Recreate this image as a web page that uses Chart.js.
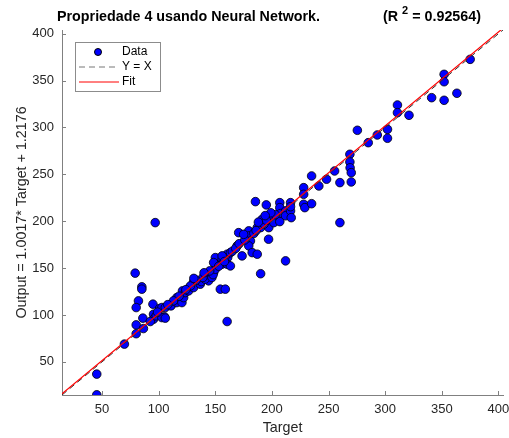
<!DOCTYPE html>
<html>
<head>
<meta charset="utf-8">
<script src="https://cdn.jsdelivr.net/npm/chart.js@4/dist/chart.umd.min.js"></script>
<style>
  html, body { margin: 0; padding: 0; background: #fff; }
  #wrap { width: 509px; height: 438px; }
</style>
</head>
<body>
<div id="wrap"><canvas id="regPlot" width="509" height="438"></canvas></div>
<script>
// valores
const target = [45.3, 45.3, 69.7, 79.2, 85.1, 85.1, 82.1, 80.1, 80.1, 80.1, 86.5, 86, 94.9, 96.9, 95.4, 95.4, 92.5, 97.8,
  100.7, 102.8, 105.8, 105.1, 102.8, 105.8, 111, 110.8, 116, 116, 120.5, 121, 122, 123.5, 126.4, 126.4, 130.8, 130.8,
  136.7, 137.6, 142.6, 144, 141, 147, 148.5, 148, 150, 150, 150, 148.5, 154.4, 158.8, 156, 156, 160.9, 160.4, 160.4,
  160.4, 163.3, 163.3, 169.2, 170.6, 173.6, 179.5, 179.5, 181, 179.5, 182.5, 187, 187, 190, 190, 185.4, 191.3, 195,
  197.2, 197, 200.2, 201.6, 212, 206.9, 206.9, 207.5, 206.9, 212, 212, 216.4, 216.4, 217, 216.4, 228, 229, 235, 228,
  228, 235, 241.4, 248.2, 255.3, 260, 260, 268.8, 268.8, 269, 270, 270, 275.4, 285, 293, 302, 302, 310.8, 310.8, 321,
  341, 352, 352, 352, 363.3, 375,
  165, 168, 171, 176, 184, 186, 193, 195, 203, 199, 194, 188, 153, 145, 139, 133, 128, 118, 113, 108, 99, 124, 131,
  140, 156, 158, 175];
const output = [14.8, 36.9, 68.9, 144.6, 130, 127.5, 115, 107.9, 89.4, 80, 85.5, 96.6, 111.5, 198.5, 100.8, 95.5, 93, 99,
  106.8, 107.9, 107.9, 98, 97.2, 96.6, 110.4, 109.7, 118.5, 113.2, 113.2, 125.7, 118.5, 123.9, 128.1, 125.7, 135.3, 129.2,
  132.8, 135.6, 141.7, 136.4, 138.2, 140, 145.2, 143, 161.2, 154.2, 148.8, 155.9, 127.5, 127.5, 159.5, 154.2, 161.2, 154.2, 164.8,
  93, 166.5, 152.3, 173.7, 187.8, 163, 189.7, 184.3, 179, 173.7, 166.5, 164.8, 193.2, 193.2, 144, 220.9, 202, 217.4,
  193.2, 180.8, 203.8, 198.5, 157.7, 219.8, 214.5, 208.1, 199.6, 211, 205.8, 219.8, 211, 203.8, 215.5, 218.1, 214.5, 218.7, 235.8,
  228.7, 248.3, 237.6, 244.8, 253.6, 241.2, 198.5, 271.4, 263.2, 257, 251.8, 241.9, 297, 283.8, 292, 298, 288.5, 324, 315.8, 313,
  331.8, 356.7, 348.8, 329, 336.5, 372.7,
  168, 171, 176, 180, 187, 190, 197, 201, 207, 209, 206, 199, 152, 147, 140, 137, 131, 120, 115, 111, 103, 127, 139,
  145, 163, 157, 186];
const tickValues = [50, 100, 150, 200, 250, 300, 350, 400];
const axisMin = 14.6;
const axisMax = 404;
const fitSlope = 1.0017;
const fitIntercept = 1.2176;
const r2 = "0.92564";

const FONT = "'Liberation Sans', Arial, sans-serif";
const pontos = target.map((t, i) => ({ x: t, y: output[i] }));
const linhaYX = [{ x: axisMin, y: axisMin }, { x: axisMax, y: axisMax }];
const linhaFit = [axisMin, axisMax].map(v => ({ x: v, y: fitSlope * v + fitIntercept }));

// titulo, legenda e ticks para dentro (estilo MATLAB)
const extras = {
  id: "extras",
  afterDraw(chart) {
    const { ctx, chartArea: a, scales: { x, y } } = chart;
    ctx.save();
    ctx.strokeStyle = "#808080";
    ctx.lineWidth = 1;
    tickValues.forEach(v => {
      const px = Math.round(x.getPixelForValue(v)) + 0.5;
      ctx.beginPath(); ctx.moveTo(px, a.bottom); ctx.lineTo(px, a.bottom - 4); ctx.stroke();
      const py = Math.round(y.getPixelForValue(v)) + 0.5;
      ctx.beginPath(); ctx.moveTo(a.left, py); ctx.lineTo(a.left + 4, py); ctx.stroke();
    });

    // titulo
    ctx.fillStyle = "#000";
    ctx.font = "bold 14.3px " + FONT;
    ctx.textBaseline = "middle";
    ctx.textAlign = "center";
    ctx.fillText("Propriedade 4 usando Neural Network.", 188.5, 17);
    ctx.textAlign = "left";
    let xx = 383;
    ctx.fillText("(R", xx, 17);
    xx += ctx.measureText("(R").width + 4;
    ctx.font = "bold 11px " + FONT;
    ctx.fillText("2", xx, 11);
    xx += ctx.measureText("2").width + 4;
    ctx.font = "bold 14.3px " + FONT;
    ctx.fillText("= " + r2 + ")", xx, 17);

    // legenda
    ctx.fillStyle = "#fff";
    ctx.fillRect(75.5, 42.5, 85, 49);
    ctx.strokeStyle = "#8c8c8c";
    ctx.strokeRect(75.5, 42.5, 85, 49);
    ctx.fillStyle = "#0000ff";
    ctx.strokeStyle = "#000";
    ctx.beginPath(); ctx.arc(98, 52, 3.5, 0, Math.PI * 2); ctx.fill(); ctx.stroke();
    ctx.strokeStyle = "#777";
    ctx.setLineDash([6, 4]);
    ctx.beginPath(); ctx.moveTo(79, 67); ctx.lineTo(119, 67); ctx.stroke();
    ctx.setLineDash([]);
    ctx.strokeStyle = "#ff0000";
    ctx.beginPath(); ctx.moveTo(79, 82); ctx.lineTo(119, 82); ctx.stroke();
    ctx.fillStyle = "#000";
    ctx.font = "12px " + FONT;
    ctx.fillText("Data", 122, 52);
    ctx.fillText("Y = X", 122, 67);
    ctx.fillText("Fit", 122, 82);
    ctx.restore();
  }
};

new Chart(document.getElementById("regPlot"), {
  type: "scatter",
  data: {
    datasets: [
      { label: "Fit", data: linhaFit, showLine: true, borderColor: "#ff0000", borderWidth: 1.2,
        pointRadius: 0, order: 0 },
      { label: "Y = X", data: linhaYX, showLine: true, borderColor: "#333", borderWidth: 1,
        borderDash: [6, 4], pointRadius: 0, order: 1 },
      { label: "Data", data: pontos, backgroundColor: "#0000ff", borderColor: "#000", borderWidth: 0.8,
        pointRadius: 4.3, order: 2 }
    ]
  },
  options: {
    responsive: false,
    animation: false,
    layout: { padding: { top: 30, right: 6, left: 0, bottom: 0 } },
    plugins: { legend: { display: false }, tooltip: { enabled: false } },
    events: [],
    scales: {
      x: {
        type: "linear", min: axisMin, max: axisMax,
        afterBuildTicks: s => { s.ticks = tickValues.map(v => ({ value: v })); },
        afterFit: s => { s.height = 43; s.paddingLeft = 0; s.paddingRight = 0; },
        grid: { display: false, drawTicks: false },
        border: { display: true, color: "#808080", width: 1 },
        ticks: { padding: 7, color: "#262626", font: { family: FONT, size: 13 }, maxRotation: 0 },
        title: { display: true, text: "Target", color: "#262626", font: { family: FONT, size: 14.3 }, padding: { top: 0, bottom: 1.5 } }
      },
      y: {
        type: "linear", min: axisMin, max: axisMax,
        afterBuildTicks: s => { s.ticks = tickValues.map(v => ({ value: v })); },
        afterFit: s => { s.width = 62; s.paddingTop = 0; s.paddingBottom = 0; },
        grid: { display: false, drawTicks: false },
        border: { display: true, color: "#808080", width: 1 },
        ticks: { padding: 8, color: "#262626", font: { family: FONT, size: 13 } },
        title: { display: true, text: "Output = 1.0017* Target + 1.2176", color: "#262626", font: { family: FONT, size: 14.3 }, padding: { top: 13, bottom: 0 } }
      }
    }
  },
  plugins: [extras]
});
</script>
</body>
</html>
